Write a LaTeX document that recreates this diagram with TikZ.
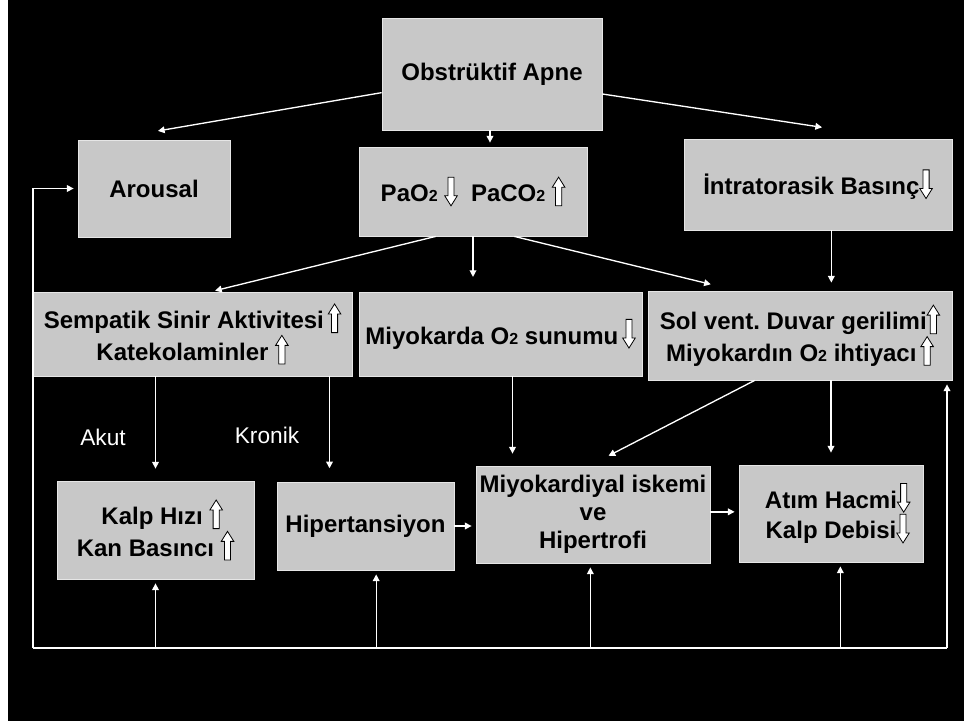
\documentclass[tikz,border=0pt]{standalone}
\usepackage{fontspec}
\setmainfont{Liberation Sans}
\usetikzlibrary{arrows.meta,positioning}
\definecolor{BoxGray}{HTML}{C8C8C8}
\definecolor{EdgeGray}{HTML}{E6E6E6}

% hollow block arrows used inside the box texts
\newcommand{\uparr}{\tikz[baseline=0pt,x=1pt,y=1pt]\draw[draw=black,fill=white,line width=0.6pt] (-2.3,-3) -- (2.3,-3) -- (2.3,11) -- (4.7,11) -- (0,18.5) -- (-4.7,11) -- (-2.3,11) -- cycle;}
\newcommand{\dnarr}{\tikz[baseline=0pt,x=1pt,y=1pt]\draw[draw=black,fill=white,line width=0.6pt] (-2.3,18.5) -- (2.3,18.5) -- (2.3,4.5) -- (4.7,4.5) -- (0,-3) -- (-4.7,4.5) -- (-2.3,4.5) -- cycle;}
\newcommand{\smtwo}{{\fontsize{12}{12}\selectfont 2}}

\begin{document}
\begin{tikzpicture}[x=0.75pt, y=-0.75pt,
    box/.style={draw=EdgeGray, line width=0.6pt, fill=BoxGray, align=center, inner sep=0pt,
        font=\bfseries\fontsize{18}{21}\selectfont},
    arr/.style={draw=white, line width=1pt, -{Triangle[width=5pt,length=5pt]}, shorten >=3pt},
    loopline/.style={draw=white, line width=1pt},
    lbl/.style={white, font=\fontsize{17}{20}\selectfont}]

    % Background
    \useasboundingbox (0,0) rectangle (964,721);
    \fill[black] (0,0) rectangle (964,721);
    \fill[white] (0,0) rectangle (8,721);

    % Top row
    \node[box, minimum width=165pt, minimum height=84pt] (obst) at (492,74) {Obstrüktif Apne};
    \node[box, minimum width=114pt, minimum height=72.75pt] (arousal) at (154,188.5) {Arousal};
    \node[box, minimum width=171pt, minimum height=66.75pt] (pao) at (473,191.5) {PaO\smtwo\ \dnarr\ \ PaCO\smtwo\ \uparr};
    \node[box, minimum width=201pt, minimum height=68.25pt] (intra) at (818,184.5) {İntratorasik Basınç\dnarr};

    % Middle row
    \node[box, minimum width=239.25pt, minimum height=63pt] (semp) at (192.5,334) {Sempatik Sinir Aktivitesi\,\uparr\\Katekolaminler \uparr};
    \node[box, minimum width=212.25pt, minimum height=63pt] (miyo) at (500.5,334) {Miyokarda O\smtwo\ sunumu\,\dnarr};
    \node[box, minimum width=228pt, minimum height=66.75pt] (solv) at (800,335.5) {Sol vent.\ Duvar gerilimi\uparr\\Miyokardın O\smtwo\ ihtiyacı\,\uparr};

    % Bottom row
    \node[box, minimum width=147.75pt, minimum height=73.5pt] (kalp) at (155.5,530) {\ \ Kalp Hızı \uparr\\Kan Basıncı \uparr};
    \node[box, minimum width=132.75pt, minimum height=66pt] (hiper) at (365.5,526) {Hipertansiyon};
    \node[box, minimum width=175.5pt, minimum height=72.75pt] (iskemi) at (593,514.5) {Miyokardiyal iskemi\\ve\\Hipertrofi};
    \node[box, minimum width=138pt, minimum height=72.75pt] (atim) at (831,513.5) {\ \ Atım Hacmi\dnarr\\\ \ Kalp Debisi\dnarr};

    % Akut / Kronik
    \node[lbl] (akut) at (103,437) {Akut};
    \node[lbl] (kronik) at (267,435) {Kronik};

    % Arrows from the top box
    \draw[arr] ([yshift=-14pt]obst.west) -- ([yshift=6pt]arousal.north);
    \draw[arr] ([yshift=-15pt]obst.east) -- ([xshift=6pt,yshift=8pt]intra.north);
    \draw[arr] ([xshift=-1.5pt]obst.south) -- ([xshift=-1.5pt]obst.south |- pao.north);

    % Arrows from PaO2 / PaCO2
    \draw[arr] ([xshift=-28pt]pao.south) -- ([xshift=14pt]semp.north);
    \draw[arr] (pao.south) -- ([yshift=8pt]pao.south |- miyo.north);
    \draw[arr] ([xshift=31pt]pao.south) -- ([xshift=-64pt,yshift=4pt]solv.north);
    \draw[arr] ([xshift=10pt]intra.south) -- ([xshift=10pt,yshift=3pt]intra.south |- solv.north);

    % Arrows to the bottom row
    \draw[arr] (semp.south -| kalp.north) -- ([yshift=6pt]kalp.north);
    \draw[arr] ([xshift=-27pt]hiper.north |- semp.south) -- ([xshift=-27pt,yshift=7pt]hiper.north);
    \draw[arr] ([xshift=9pt]miyo.south) -- ([xshift=9pt,yshift=6pt]miyo.south |- iskemi.north);
    \draw[arr] ([xshift=-34pt]solv.south) -- ([xshift=9pt,yshift=6pt]iskemi.north);
    \draw[arr] (atim.north |- solv.south) -- ([yshift=6pt]atim.north);
    \draw[arr] (hiper.east) -- (hiper.east -| iskemi.west);
    \draw[arr] ([yshift=2pt]iskemi.east) -- ([yshift=2pt]iskemi.east -| atim.west);

    % Feedback loop along the bottom
    \coordinate (bl) at (33,648);
    \coordinate (br) at (947,648);
    \draw[loopline] (bl) -- (br);
    \draw[arr] (bl) |- (arousal.west);
    \draw[arr] (br) -- (br |- solv.south);
    \draw[arr] (kalp.south |- bl) -- (kalp.south);
    \draw[arr] ([xshift=8pt]hiper.south |- bl) -- ([xshift=8pt]hiper.south);
    \draw[arr] ([xshift=-2pt]iskemi.south |- bl) -- ([xshift=-2pt]iskemi.south);
    \draw[arr] ([xshift=7pt]atim.south |- bl) -- ([xshift=7pt]atim.south);

\end{tikzpicture}
\end{document}
